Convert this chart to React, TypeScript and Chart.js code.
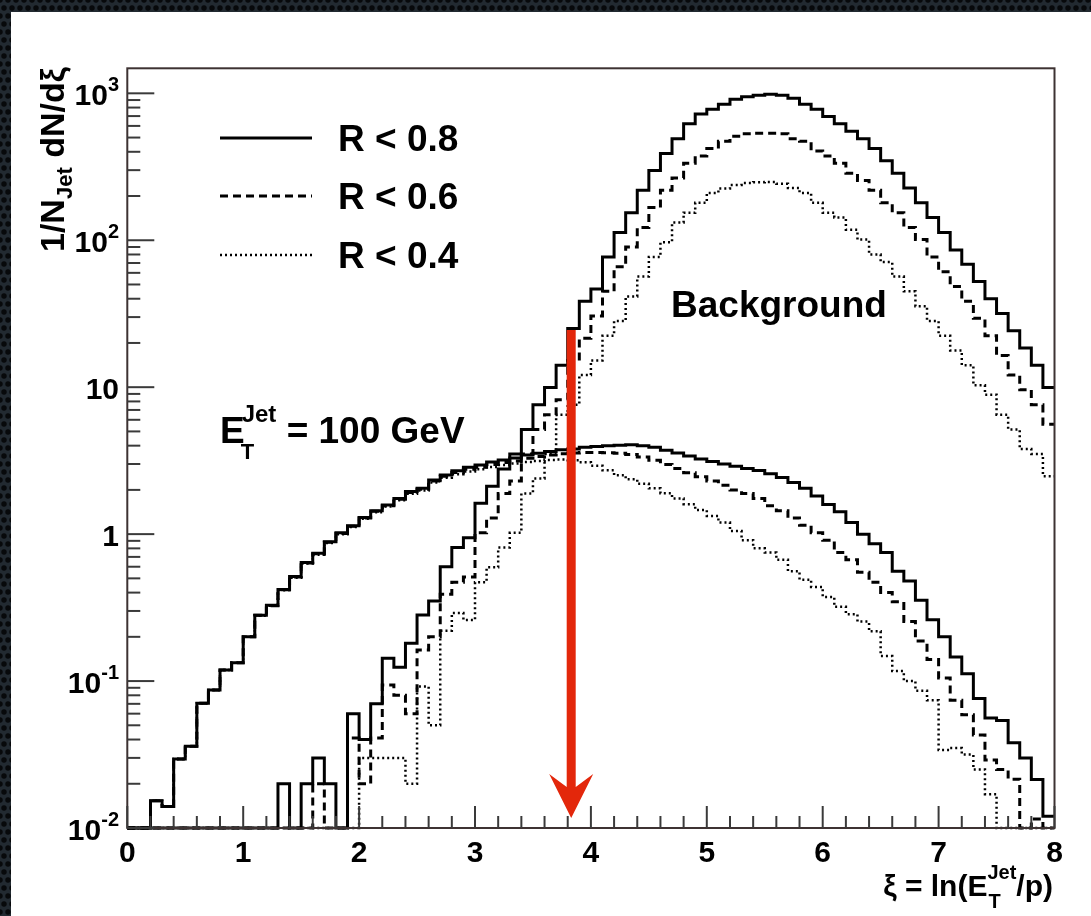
import React, { useEffect, useRef } from 'react';
import { Chart, registerables } from 'chart.js';

Chart.register(...registerables);

// ---------- data ----------
const X_MIN = 0;
const X_MAX = 8;
const BIN_WIDTH = 0.1;
const Y_MIN = 0.01;
const Y_MAX = 1480;

// Jet signal, 80 bins of width 0.1 in xi
const signalR08 = [
  0, 0, 0.0153, 0.014, 0.0295, 0.036, 0.0706, 0.087, 0.119, 0.133,
  0.2, 0.28, 0.328, 0.42, 0.514, 0.64, 0.74, 0.886, 1.02, 1.14,
  1.3, 1.44, 1.58, 1.75, 1.95, 2.05, 2.34, 2.53, 2.7, 2.85,
  2.95, 3.1, 3.2, 3.3, 3.45, 3.55, 3.65, 3.75, 3.8, 3.9,
  3.95, 4.0, 4.02, 4.05, 4.0, 3.9, 3.72, 3.56, 3.4, 3.25,
  3.12, 3.0, 2.9, 2.8, 2.71, 2.58, 2.43, 2.25, 2.05, 1.82,
  1.59, 1.42, 1.2, 1.0, 0.86, 0.75, 0.56, 0.48, 0.355, 0.261,
  0.2, 0.146, 0.112, 0.076, 0.056, 0.054, 0.038, 0.03, 0.0214, 0.012,
];
const signalR06 = [
  0, 0, 0.0153, 0.014, 0.0295, 0.036, 0.0706, 0.087, 0.119, 0.133,
  0.2, 0.28, 0.326, 0.418, 0.51, 0.635, 0.735, 0.88, 1.01, 1.13,
  1.29, 1.43, 1.56, 1.73, 1.92, 2.02, 2.3, 2.48, 2.63, 2.76,
  2.85, 2.98, 3.07, 3.15, 3.28, 3.37, 3.45, 3.52, 3.56, 3.6,
  3.6, 3.58, 3.55, 3.48, 3.35, 3.18, 2.98, 2.8, 2.62, 2.46,
  2.3, 2.15, 2.0, 1.89, 1.75, 1.56, 1.44, 1.29, 1.15, 1.02,
  0.91, 0.75, 0.67, 0.55, 0.47, 0.4, 0.346, 0.254, 0.187, 0.14,
  0.105, 0.074, 0.059, 0.043, 0.029, 0.025, 0.0215, 0, 0.0115, 0,
];
const signalR04 = [
  0, 0, 0.0153, 0.014, 0.0295, 0.036, 0.0706, 0.087, 0.119, 0.133,
  0.2, 0.278, 0.325, 0.415, 0.505, 0.63, 0.725, 0.87, 1.0, 1.12,
  1.27, 1.41, 1.54, 1.7, 1.88, 1.98, 2.25, 2.42, 2.56, 2.67,
  2.76, 2.86, 2.95, 3.02, 3.1, 3.15, 3.2, 3.22, 3.18, 3.08,
  2.92, 2.72, 2.52, 2.36, 2.2, 2.05, 1.9, 1.75, 1.6, 1.46,
  1.33, 1.2, 1.05, 0.91, 0.8, 0.75, 0.67, 0.56, 0.49, 0.437,
  0.374, 0.32, 0.285, 0.254, 0.218, 0.148, 0.117, 0.1, 0.086, 0.074,
  0.034, 0.035, 0.0316, 0.025, 0.017, 0, 0, 0, 0, 0,
];
// Background (underlying event), same binning
const backgroundR08 = [
  0, 0, 0, 0, 0, 0, 0, 0, 0, 0,
  0, 0, 0, 0.02, 0, 0.02, 0.03, 0.02, 0, 0.06,
  0.04, 0.07, 0.143, 0.124, 0.181, 0.282, 0.35, 0.6, 0.81, 0.945,
  1.62, 2.12, 2.78, 3.51, 5.16, 7.6, 9.96, 14.1, 25.1, 38.4,
  46.6, 77, 113, 154, 219, 298, 390, 491, 620, 723,
  780, 843, 911, 948, 970, 985, 970, 926, 843, 780,
  695, 620, 552, 491, 421, 347, 286, 227, 180, 143,
  113, 86, 68.7, 52.4, 40, 31.7, 24.2, 18.5, 14.1, 9.96,
];
const backgroundR06 = [
  0, 0, 0, 0, 0, 0, 0, 0, 0, 0,
  0, 0, 0, 0, 0, 0, 0.02, 0, 0, 0.041,
  0.02, 0.041, 0.094, 0.08, 0.06, 0.163, 0.2, 0.39, 0.47, 0.51,
  1.02, 1.29, 1.89, 2.3, 3.51, 5.16, 6.5, 8.2, 15.2, 21.5,
  30.5, 44.9, 66, 90, 122, 167, 219, 265, 334, 375,
  421, 472, 510, 530, 535, 535, 530, 491, 472, 405,
  375, 334, 286, 255, 219, 180, 154, 122, 101, 77,
  61, 48.5, 38.4, 29.4, 22.4, 16.4, 12.1, 9.6, 7.6, 5.6,
];
const backgroundR04 = [
  0, 0, 0, 0, 0, 0, 0, 0, 0, 0,
  0, 0, 0, 0, 0, 0, 0, 0, 0, 0,
  0.03, 0.03, 0.03, 0.03, 0.02, 0.092, 0.05, 0.22, 0.29, 0.26,
  0.47, 0.594, 0.81, 1.02, 1.89, 2.39, 3.51, 6.5, 7.6, 12.1,
  15.2, 22.4, 28.2, 41.5, 56.6, 77, 97, 132, 154, 180,
  210, 225, 238, 245, 248, 249, 242, 227, 210, 180,
  154, 143, 118, 101, 80, 71, 56.6, 44.9, 35.6, 28.2,
  22.4, 17.8, 14.1, 10.3, 8.9, 6.5, 5.16, 3.79, 3.51, 2.48,
];

const legendLabels = ['R < 0.8', 'R < 0.6', 'R < 0.4'];
const xTickValues = [0, 1, 2, 3, 4, 5, 6, 7, 8];
const xTickLabels = ['0', '1', '2', '3', '4', '5', '6', '7', '8'];
const yTickValues = [0.01, 0.1, 1, 10, 100, 1000];
const yTickBases = ['10', '10', '1', '10', '10', '10'];
const yTickExponents = ['-2', '-1', '', '', '2', '3'];

// red arrow (in data coordinates)
const arrowX = 3.83;
const arrowTopValue = 24.5;
const arrowTipValue = 0.0117;

// ---------- styles ----------
const FONT = '"Liberation Sans", Arial, Helvetica, sans-serif';
const W = 1091;
const H = 916;
const STYLES = [
  { dash: [] as number[], width: 3 },
  { dash: [8, 5], width: 3 },
  { dash: [2, 3], width: 2.5 },
];

// empty bins are drawn on the bottom of the frame, as ROOT does on a log axis
function histPoints(values: number[]) {
  const pts = values.map((v, i) => ({ x: X_MIN + i * BIN_WIDTH, y: v > 0 ? v : Y_MIN }));
  const last = values[values.length - 1];
  pts.push({ x: X_MAX, y: last > 0 ? last : Y_MIN });
  return pts;
}

function font(size: number) {
  return `bold ${size}px ${FONT}`;
}

const backdropPlugin = {
  id: 'backdrop',
  beforeDraw(chart: any) {
    const ctx = chart.ctx as CanvasRenderingContext2D;
    ctx.save();
    ctx.fillStyle = '#222a31';
    ctx.fillRect(0, 0, W, H);
    ctx.fillStyle = '#07090b';
    for (let row = 0, y = 0; y < H + 8; row++, y += 8) {
      for (let x = (row % 2) * 4; x < W + 8; x += 8) {
        ctx.beginPath();
        ctx.arc(x, y, 2.7, 0, Math.PI * 2);
        ctx.fill();
      }
    }
    ctx.fillStyle = '#ffffff';
    ctx.fillRect(11, 12, W - 11, H - 12);
    ctx.restore();
  },
};

const decorPlugin = {
  id: 'decor',
  afterDatasetsDraw(chart: any) {
    const ctx = chart.ctx as CanvasRenderingContext2D;
    const xs = chart.scales.x;
    const ys = chart.scales.y;
    const area = chart.chartArea;
    ctx.save();

    // frame
    ctx.strokeStyle = '#3d3232';
    ctx.lineWidth = 2;
    ctx.strokeRect(area.left, area.top, area.right - area.left, area.bottom - area.top);

    // x ticks (inside, bottom)
    ctx.strokeStyle = '#3a3a3a';
    ctx.lineWidth = 2;
    for (let k = 0; k <= 40; k++) {
      const v = k * 0.2;
      const px = xs.getPixelForValue(v);
      const len = k % 5 === 0 ? 22 : 12;
      ctx.beginPath();
      ctx.moveTo(px, area.bottom);
      ctx.lineTo(px, area.bottom - len);
      ctx.stroke();
    }
    // y ticks (inside, left)
    for (let d = -2; d <= 3; d++) {
      for (let m = 1; m <= 9; m++) {
        const v = m * Math.pow(10, d);
        if (v > Y_MAX || v < Y_MIN) continue;
        const py = ys.getPixelForValue(v);
        const len = m === 1 ? 27 : 13;
        ctx.beginPath();
        ctx.moveTo(area.left, py);
        ctx.lineTo(area.left + len, py);
        ctx.stroke();
      }
    }

    ctx.fillStyle = '#000';
    ctx.textBaseline = 'alphabetic';
    // x tick labels
    ctx.font = font(30);
    ctx.textAlign = 'center';
    xTickValues.forEach((v, i) => {
      ctx.fillText(xTickLabels[i], xs.getPixelForValue(v), 862);
    });
    // y tick labels
    ctx.textAlign = 'left';
    yTickValues.forEach((v, i) => {
      const py = ys.getPixelForValue(v);
      const base = yTickBases[i];
      const exp = yTickExponents[i];
      ctx.font = font(30);
      const wb = ctx.measureText(base).width;
      ctx.font = font(20);
      const we = exp ? ctx.measureText(exp).width : 0;
      const right = 119;
      const x0 = right - wb - we;
      ctx.font = font(30);
      ctx.fillText(base, x0, py + 12);
      if (exp) {
        ctx.font = font(20);
        ctx.fillText(exp, x0 + wb, py - 2);
      }
    });

    // y axis title (rotated)
    ctx.save();
    ctx.translate(64, 252);
    ctx.rotate(-Math.PI / 2);
    ctx.textAlign = 'left';
    let cx = 0;
    ctx.font = font(34);
    ctx.fillText('1/N', cx, 0);
    cx += ctx.measureText('1/N').width;
    ctx.font = font(22);
    ctx.fillText('Jet', cx, 8);
    cx += ctx.measureText('Jet').width;
    ctx.font = font(34);
    ctx.fillText(' dN/dξ', cx, 0);
    ctx.restore();

    // x axis title
    {
      const p1 = 'ξ = ln(E';
      const p3 = '/p)';
      ctx.font = font(30);
      const w1 = ctx.measureText(p1).width;
      const w3 = ctx.measureText(p3).width;
      ctx.font = font(20);
      const wj = ctx.measureText('Jet').width;
      const right = 1053;
      const x0 = right - w1 - wj - w3;
      const base = 896;
      ctx.textAlign = 'left';
      ctx.font = font(30);
      ctx.fillText(p1, x0, base);
      ctx.font = font(20);
      ctx.fillText('Jet', x0 + w1, base - 17);
      ctx.fillText('T', x0 + w1 + 1, base + 12);
      ctx.font = font(30);
      ctx.fillText(p3, x0 + w1 + wj, base);
    }

    // legend
    const legendY = [138, 196, 255];
    legendLabels.forEach((label, i) => {
      const st = STYLES[i];
      ctx.strokeStyle = '#000';
      ctx.lineWidth = st.width;
      ctx.setLineDash(st.dash);
      ctx.beginPath();
      ctx.moveTo(220, legendY[i]);
      ctx.lineTo(312, legendY[i]);
      ctx.stroke();
      ctx.setLineDash([]);
      ctx.font = font(37);
      ctx.fillStyle = '#000';
      ctx.fillText(label, 338, legendY[i] + 13);
    });

    // Background label
    ctx.font = font(37);
    ctx.fillText('Background', 671, 317);

    // E_T^Jet = 100 GeV
    {
      const x0 = 220;
      const base = 443;
      ctx.font = font(37);
      ctx.fillText('E', x0, base);
      const we = ctx.measureText('E').width;
      ctx.font = font(24);
      ctx.fillText('Jet', x0 + we - 3, 422);
      const wj = ctx.measureText('Jet').width;
      ctx.font = font(22);
      ctx.fillText('T', x0 + we - 4, 459);
      ctx.font = font(37);
      ctx.fillText(' = 100 GeV', x0 + we - 3 + wj, base);
    }

    // red arrow
    {
      const ax = xs.getPixelForValue(arrowX);
      const top = ys.getPixelForValue(arrowTopValue);
      const tip = ys.getPixelForValue(arrowTipValue);
      const half = 4.5;
      const headHalf = 22;
      const headLen = 44;
      const notch = 31;
      ctx.fillStyle = '#e3270b';
      ctx.beginPath();
      ctx.moveTo(ax - half, top);
      ctx.lineTo(ax - half, tip - notch);
      ctx.lineTo(ax - headHalf, tip - headLen);
      ctx.lineTo(ax, tip);
      ctx.lineTo(ax + headHalf, tip - headLen);
      ctx.lineTo(ax + half, tip - notch);
      ctx.lineTo(ax + half, top);
      ctx.closePath();
      ctx.fill();
    }

    ctx.restore();
  },
};

export default function App() {
  const canvasRef = useRef<HTMLCanvasElement | null>(null);

  useEffect(() => {
    if (!canvasRef.current) return;
    const series = [
      signalR08, signalR06, signalR04,
      backgroundR08, backgroundR06, backgroundR04,
    ];
    const names = [
      'Jet R < 0.8', 'Jet R < 0.6', 'Jet R < 0.4',
      'Background R < 0.8', 'Background R < 0.6', 'Background R < 0.4',
    ];
    const datasets = series.map((vals, i) => {
      const st = STYLES[i % 3];
      return {
        label: names[i],
        data: histPoints(vals),
        borderColor: '#000000',
        backgroundColor: 'transparent',
        borderWidth: st.width,
        borderDash: st.dash,
        stepped: true,
        pointRadius: 0,
        fill: false,
        tension: 0,
        clip: 3,
      };
    });

    const chart = new Chart(canvasRef.current, {
      type: 'line',
      data: { datasets: datasets as any },
      options: {
        responsive: false,
        animation: false,
        events: [],
        layout: { padding: { left: 127.3, top: 68.3, right: 36.5, bottom: 88 } },
        plugins: {
          legend: { display: false },
          tooltip: { enabled: false },
          title: { display: false },
        },
        scales: {
          x: { type: 'linear', min: X_MIN, max: X_MAX, display: false },
          y: { type: 'logarithmic', min: Y_MIN, max: Y_MAX, display: false },
        },
      },
      plugins: [backdropPlugin, decorPlugin],
    });
    return () => chart.destroy();
  }, []);

  return (
    <div style={{ position: 'fixed', left: 0, top: 0, width: W, height: H }}>
      <canvas ref={canvasRef} width={W} height={H} style={{ width: W, height: H, display: 'block' }} />
    </div>
  );
}
